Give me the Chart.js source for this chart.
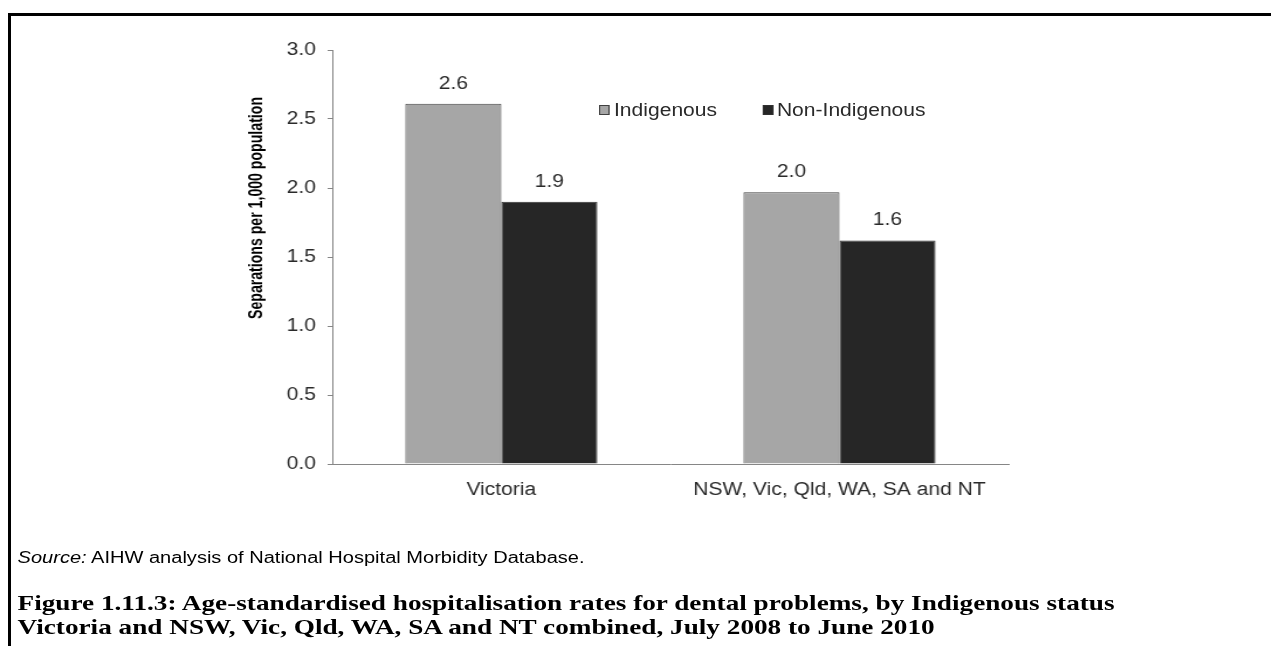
<!DOCTYPE html>
<html><head><meta charset="utf-8">
<script src="https://cdn.jsdelivr.net/npm/chart.js@4.4.0/dist/chart.umd.min.js"></script>
<style>
html,body{margin:0;padding:0;background:#fff;width:1271px;height:646px;overflow:hidden;}
#frame{position:absolute;left:8px;top:13px;width:1263px;height:640px;border-top:3px solid #000;border-left:3px solid #000;box-sizing:content-box;}
#stage{position:absolute;left:0;top:0;width:1087px;height:646px;transform:scaleX(1.17);transform-origin:0 0;}
#chartBox{position:absolute;left:0;top:0;width:1087px;height:646px;}
.leg{position:absolute;font-family:"Liberation Sans",Arial,sans-serif;font-size:18px;color:#2a2a2a;line-height:20px;white-space:nowrap;}
.sw{position:absolute;width:8.5px;height:10px;box-sizing:border-box;border:1px solid #555;}
#source{position:absolute;left:15.4px;top:548px;font-family:"Liberation Sans",Arial,sans-serif;font-size:16px;line-height:20px;color:#000;white-space:nowrap;transform-origin:0 50%;}
.cap{position:absolute;left:15.4px;font-family:"Liberation Serif",serif;font-weight:bold;font-size:21px;line-height:24px;color:#000;white-space:nowrap;transform-origin:0 50%;}
</style>
</head>
<body>
<div id="frame"></div>
<div id="stage">
  <div id="chartBox"><canvas id="c"></canvas></div>
  <div id="legend"></div>
  <div id="source"><i>Source:</i> AIHW analysis of National Hospital Morbidity Database.</div>
  <div class="cap" id="cap1" style="top:591px">Figure 1.11.3: Age-standardised hospitalisation rates for dental problems, by Indigenous status</div>
  <div class="cap" id="cap2" style="top:615px">Victoria and NSW, Vic, Qld, WA, SA and NT combined, July 2008 to June 2010</div>
</div>
<script>
// ---- data ----
const categories = ["Victoria", "NSW, Vic, Qld, WA, SA and NT"];
const seriesNames = ["Indigenous", "Non-Indigenous"];
const indigenousRates = [2.61, 1.97];
const nonIndigenousRates = [1.90, 1.62];
const yTickValues = [0.0, 0.5, 1.0, 1.5, 2.0, 2.5, 3.0];
const yAxisTitle = "Separations per 1,000 population";

// ---- styles ----
const FONT = '"Liberation Sans", Arial, sans-serif';
const STRETCH = 1.17;
const fills = ["#a6a6a6", "#262626"];
const borders = ["#404040", "#303030"];
const axisGray = "#868686";
const textColor = "#2a2a2a";

// fit text widths (target widths measured on the reference, in page pixels)
function fitWidth(id, target) {
  const el = document.getElementById(id);
  const w = el.getBoundingClientRect().width / STRETCH;
  el.style.transform = 'scaleX(' + (target / STRETCH / w) + ')';
}
fitWidth('source', 567);
fitWidth('cap1', 1097);
document.getElementById('cap2').style.transform = document.getElementById('cap1').style.transform;

// legend (HTML)
const legendPos = [{sw:512, tx:524.8}, {sw:652, tx:664}];
const legendEl = document.getElementById('legend');
seriesNames.forEach((n, i) => {
  const s = document.createElement('div');
  s.className = 'sw';
  s.style.left = legendPos[i].sw + 'px';
  s.style.top = '105px';
  s.style.background = fills[i];
  s.style.borderColor = borders[i];
  legendEl.appendChild(s);
  const t = document.createElement('div');
  t.className = 'leg';
  t.style.left = legendPos[i].tx + 'px';
  t.style.top = '100px';
  t.textContent = n;
  legendEl.appendChild(t);
});

const valueLabels = {
  id: 'valueLabels',
  afterDatasetsDraw(chart) {
    const ctx = chart.ctx;
    ctx.save();
    ctx.font = '18px ' + FONT;
    ctx.fillStyle = textColor;
    ctx.textAlign = 'center';
    ctx.textBaseline = 'middle';
    chart.data.datasets.forEach((ds, di) => {
      chart.getDatasetMeta(di).data.forEach((bar, i) => {
        ctx.fillText(ds.data[i].toFixed(1), bar.x, bar.y - 20);
      });
    });
    ctx.restore();
  }
};

const yTitle = {
  id: 'yTitle',
  afterDraw(chart) {
    const ctx = chart.ctx;
    ctx.save();
    ctx.translate(220, 208);
    ctx.rotate(-Math.PI / 2);
    ctx.font = 'bold 16px ' + FONT;
    const w = ctx.measureText(yAxisTitle).width;
    ctx.scale(222 / w, 1);
    ctx.fillStyle = '#000';
    ctx.textAlign = 'center';
    ctx.textBaseline = 'middle';
    ctx.fillText(yAxisTitle, 0, 0);
    ctx.restore();
  }
};

new Chart(document.getElementById('c'), {
  type: 'bar',
  data: {
    labels: categories,
    datasets: [
      { label: seriesNames[0], data: indigenousRates, backgroundColor: fills[0], borderColor: borders[0], borderWidth: 1, barPercentage: 1, categoryPercentage: 0.568 },
      { label: seriesNames[1], data: nonIndigenousRates, backgroundColor: fills[1], borderColor: borders[1], borderWidth: 1, barPercentage: 1, categoryPercentage: 0.568 }
    ]
  },
  options: {
    responsive: true,
    maintainAspectRatio: false,
    animation: false,
    layout: { padding: { left: 0, right: 225, top: 50, bottom: 132 } },
    plugins: { legend: { display: false }, tooltip: { enabled: false } },
    scales: {
      x: {
        grid: { display: false, drawTicks: false },
        border: { display: true, color: axisGray, width: 1 },
        ticks: { padding: 15, color: textColor, font: { family: FONT, size: 18 } },
        afterFit(s) { s.height = 50; }
      },
      y: {
        min: 0, max: 3,
        afterBuildTicks(s) { s.ticks = yTickValues.map(v => ({ value: v })); },
        ticks: { padding: 10, color: textColor, font: { family: FONT, size: 18 }, callback: v => Number(v).toFixed(1) },
        grid: { drawOnChartArea: false, drawTicks: true, tickLength: 4, color: axisGray },
        border: { display: true, color: axisGray, width: 1 },
        afterFit(s) { s.width = 284; }
      }
    }
  },
  plugins: [valueLabels, yTitle]
});
</script>
</body></html>
